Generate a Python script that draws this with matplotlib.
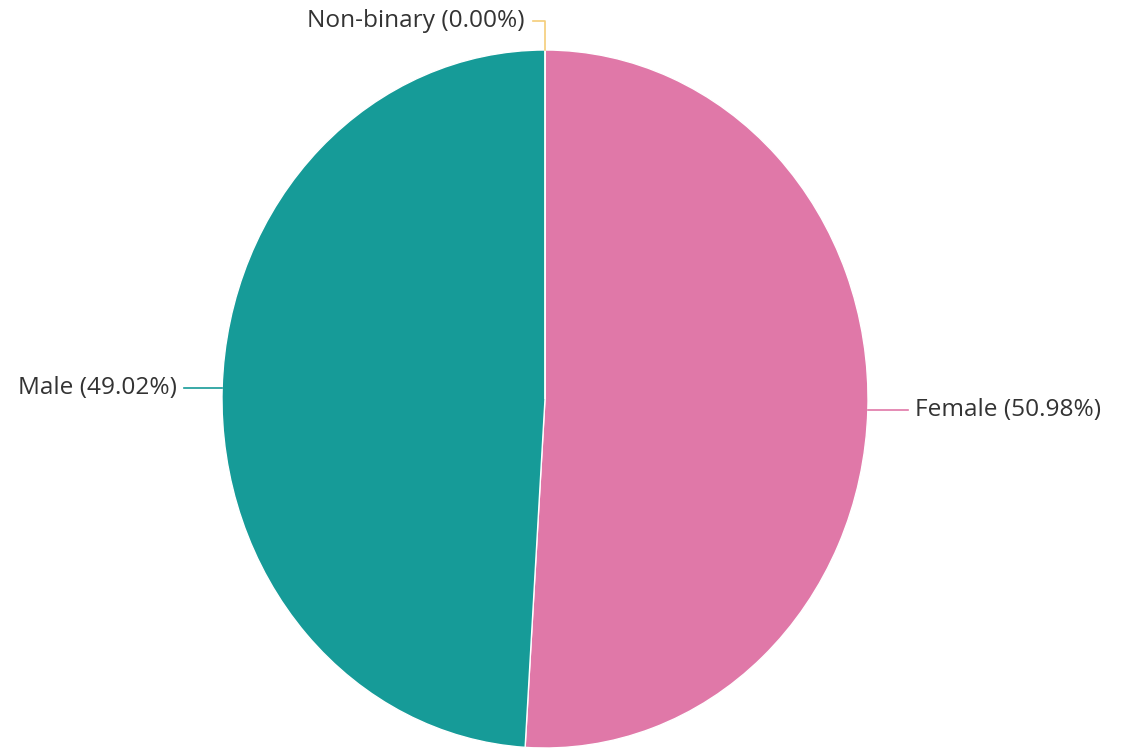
import numpy as np
import matplotlib.pyplot as plt

labels = ["Female", "Male", "Non-binary"]
values = [50.98, 49.02, 0.00]
colors = ["#e078a8", "#169b98", "#f5cd79"]

plt.rcParams['font.family'] = ['Open Sans', 'DejaVu Sans']

fig = plt.figure(figsize=(11.35, 7.49), dpi=100)
# pie is drawn slightly taller than wide, like the reference
ax = fig.add_axes([222 / 1135, 1 / 749, 646 / 1135, 698 / 749])
wedges, _ = ax.pie(values, colors=colors, startangle=90, counterclock=False,
                   wedgeprops=dict(edgecolor="white", linewidth=1))
ax.set_xlim(-1, 1)
ax.set_ylim(-1, 1)
ax.set_aspect("auto")
ax.axis("off")

total = sum(values)
text_color = "#333333"
fs = 17.6
for lab, val, col, w in zip(labels, values, colors, wedges):
    txt = f"{lab} ({val / total * 100:.2f}%)"
    mid = np.deg2rad((w.theta1 + w.theta2) / 2)
    x, y = np.cos(mid), np.sin(mid)
    if val == 0:
        # small elbow leader going up then left
        ax.plot([x, x, x - 0.037], [y, 1.083, 1.083], color=col, lw=1.2,
                clip_on=False)
        ax.text(x - 0.062, 1.083, txt, ha="right", va="center",
                fontsize=fs, color=text_color, clip_on=False)
    elif x > 0:
        ax.plot([x, 1.124], [y, y], color=col, lw=1.2, clip_on=False)
        ax.text(1.146, y, txt, ha="left", va="center", fontsize=fs,
                color=text_color, clip_on=False)
    else:
        ax.plot([x, -1.118], [y, y], color=col, lw=1.2, clip_on=False)
        ax.text(-1.139, y, txt, ha="right", va="center", fontsize=fs,
                color=text_color, clip_on=False)

fig.savefig("out.png", dpi=100)
